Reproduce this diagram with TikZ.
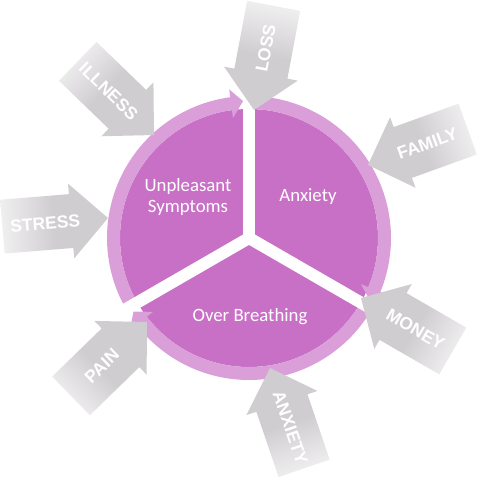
\documentclass[tikz,border=0pt]{standalone}
\usepackage{fontspec}
\setmainfont{Carlito}
\newfontfamily\arrowfont{Liberation Sans}
\definecolor{petal}{HTML}{C870C6}
\definecolor{ringc}{HTML}{DA9FD8}
\definecolor{arrowgray}{HTML}{D0CDD0}
\definecolor{arrowlight}{HTML}{F0EFF0}
\tikzset{
  sectortext/.style={text=white, font=\fontsize{18.8}{21}\selectfont, align=center, inner sep=0pt},
  arrowtext/.style={text=white, font=\arrowfont\bfseries\fontsize{17.5}{17.5}\selectfont, inner sep=0pt},
  ringarc/.style={draw=ringc, line width=13pt},
  ringhead/.style={fill=ringc},
  gapline/.style={draw=white, line width=12pt},
}
% #1 name, #2 tip, #3 direction angle, #4 shading angle, #5 text, #6 text rotation
\newcommand\grayarrow[6]{%
  \begin{scope}[shift={(#2)}, rotate=#3]
    \shade[top color=arrowlight, bottom color=arrowgray, middle color=arrowgray, shading angle=#4]
      (0,0) -- (-37,37.5) -- (-37,27) -- (-106,27) -- (-106,-27) -- (-37,-27) -- (-37,-37.5) -- cycle;
    \node[arrowtext, rotate=#6] (#1) at (-63,0) {#5};
  \end{scope}}
\begin{document}
\begin{tikzpicture}[x=1pt,y=1pt]
\useasboundingbox (0,0) rectangle (477,-477);
\coordinate (C) at (249,-238);
% dark disc
\fill[petal] (C) circle[radius=129];
% ring arcs
\draw[ringarc] ([shift={(210:135.5)}]C) arc[start angle=210, end angle=97, radius=135.5];
\draw[ringarc] ([shift={(90:135.5)}]C) arc[start angle=90, end angle=-23, radius=135.5];
\draw[ringarc] ([shift={(-30:135.5)}]C) arc[start angle=-30, end angle=-143, radius=135.5];
% gaps
\draw[gapline] (C) -- ([shift={(90:160)}]C);
\draw[gapline] (C) -- ([shift={(210:160)}]C);
\draw[gapline] (C) -- ([shift={(-30:160)}]C);
% ring arrow heads
\fill[ringhead] ([shift={(97.6:121)}]C) -- ([shift={(97.6:150)}]C) -- ([shift={(92.5:137)}]C) -- cycle;
\fill[ringhead] ([shift={(-22.4:121)}]C) -- ([shift={(-22.4:150)}]C) -- ([shift={(-27.5:137)}]C) -- cycle;
\fill[ringhead] ([shift={(-142.4:121)}]C) -- ([shift={(-142.4:150)}]C) -- ([shift={(-147.5:137)}]C) -- cycle;
% sector texts
\node[sectortext] (unp) at (188,-197) {Unpleasant\\Symptoms};
\node[sectortext, anchor=base] (anx) at (308,-201.5) {Anxiety};
\node[sectortext, anchor=base] (ovb) at (250,-321.5) {Over Breathing};
% gray arrows
\grayarrow{loss}{254,-110}{259.3}{349.3}{LOSS}{79.3}
\grayarrow{illness}{154,-135}{-44}{46}{ILLNESS}{-44}
\grayarrow{family}{368,-165}{199.8}{289.8}{FAMILY}{19.8}
\grayarrow{stress}{108,-218}{4.7}{94.7}{STRESS}{4.7}
\grayarrow{pain}{147,-322}{44.2}{134.2}{PAIN}{44.2}
\grayarrow{money}{361,-298}{150}{240}{MONEY}{-30}
\grayarrow{anxiety}{270,-368}{108.8}{198.8}{ANXIETY}{-71.2}
\end{tikzpicture}
\end{document}
